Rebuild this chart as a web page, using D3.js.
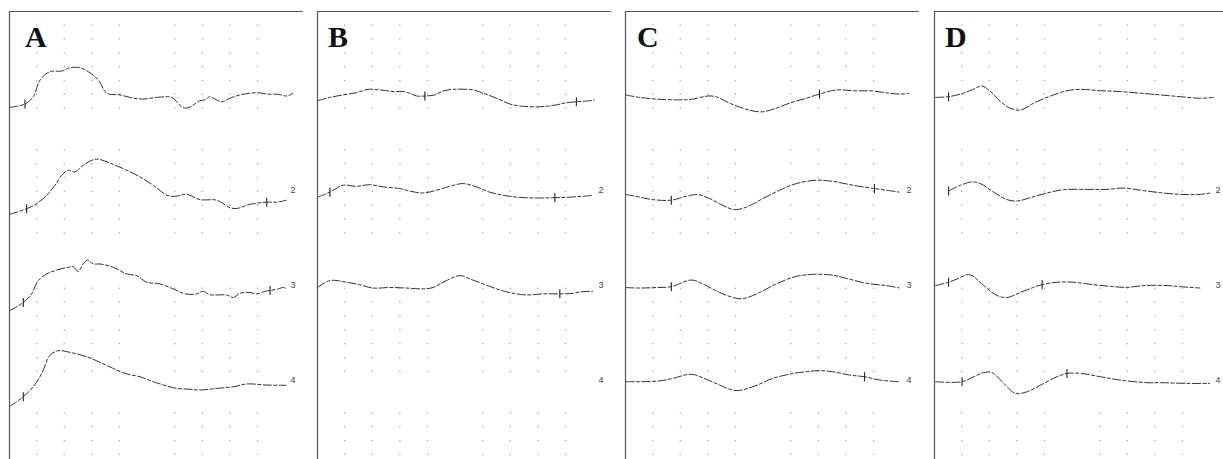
<!DOCTYPE html>
<html><head><meta charset="utf-8">
<script src="https://cdn.jsdelivr.net/npm/d3@7"></script>
<style>html,body{margin:0;padding:0;background:#fff;} svg{display:block;}</style>
</head><body>
<svg id="chart" width="1223" height="459"></svg>
<script>
// ---------- data (time in ms, amplitude in µV; 10 ms/div, 5 µV/div) ----------
const panelLetters = ["A", "B", "C", "D"];
const traceLabels = ["", "2", "3", "4"];
const gridCols = [10, 20, 30, 40, 60, 70, 80, 90];
const gridRows = [0,1,2,3,4,5,6, 9,10,11,12,13,14,15, 19,20,21,22,23,24,25, 28,29,30,31];

const traceA1 = [[0,-4.1],[5.6,-2.9],[8.6,-0.25],[11.1,5.8],[14.7,8.8],[18.9,9.0],[21.9,10.2],[25.5,10.2],[28.5,8.8],[32.2,5.8],[35.2,1.0],[40,0.4],[44.9,-0.8],[48.5,-1.1],[53.3,-0.5],[58.8,-0.5],[60.6,-2.1],[62.4,-3.9],[64.2,-4.4],[66.6,-3.2],[69,-1.7],[70.8,-1.4],[72.6,-0.25],[73.8,-0.8],[75.1,-1.4],[76.9,-2.1],[79.9,-0.8],[83.5,0.4],[87.1,1.0],[90.1,1.2],[93.2,0.7],[97.4,0.6],[100.4,0],[102.8,1.0]];
const traceA2 = [[0,-8.3],[6.2,-6.3],[9.9,-4.4],[13.5,-1.4],[16.5,2.2],[18.9,5.8],[21.3,7.6],[23.7,7.0],[26.7,9.4],[29.8,11.2],[32.2,11.6],[36.4,10.2],[41.2,8.2],[47.3,5.2],[52.1,2.2],[57,-1.4],[60,-1.8],[64.2,-1.1],[69,-3.0],[75.1,-3.2],[79.9,-5.9],[82.3,-6.2],[87.1,-4.7],[93.2,-3.9],[96.8,-3.9],[100.4,-3.2]];
const traceA3 = [[0,-8.7],[5,-5.7],[8,-2.6],[10.4,2.2],[13.5,4.6],[17.1,6.0],[21.3,7.0],[23.1,7.2],[24.9,5.5],[26.7,8.2],[28.2,9.6],[30.4,8.2],[32.8,8.2],[37.6,7.0],[42.5,4.6],[46.1,4.0],[49.7,1.6],[54.5,1.0],[59.3,-0.8],[63.6,-2.6],[67.8,-2.6],[70.2,-1.7],[72.6,-2.9],[78.7,-3.0],[81.1,-3.9],[83.5,-2.4],[87.1,-2.1],[89.6,-2.6],[92.6,-1.7],[94.4,-1.4],[97.4,-0.8],[99.2,-0.3],[100.4,-0.8]];
const traceA4 = [[0,-8.9],[5,-5.3],[8.6,-1.7],[11.7,3.1],[14.7,9.7],[17.7,11.3],[21.9,10.7],[28,9.1],[32.8,7.1],[37.6,4.9],[42.5,2.9],[47.3,1.9],[53.3,-0.3],[60.6,-2.3],[65.4,-2.6],[69,-2.9],[75.1,-2.3],[81.1,-1.7],[85.9,-0.7],[93.2,-1.1],[100.4,-1.2]];

const traceB1 = [[0,-1.7],[4.5,-0.5],[9.3,0.4],[14.1,1.2],[18.3,2.4],[22.6,2.2],[27.4,1.6],[31,1.6],[33.4,1.0],[35.9,0],[38.9,0],[42.5,0.4],[45.5,1.8],[49.1,2.4],[56.4,2.2],[60,1.0],[64.9,-0.8],[69.7,-2.9],[73.3,-3.6],[80.5,-3.9],[86.6,-3.2],[90.2,-2.4],[93.8,-2.1],[98.7,-1.7],[100.5,-1.4]];
const traceB2 = [[0,-2.1],[4.5,-0.3],[9.3,2.2],[14.1,1.8],[18.9,2.4],[23.8,1.6],[29.8,1.0],[33.4,0.1],[38.3,-0.6],[43.1,0.4],[47.9,1.8],[52.8,2.8],[57.6,1.6],[62.4,-0.3],[67.2,-1.4],[72.1,-2.1],[79.3,-2.4],[86,-2.3],[91.4,-2.1],[96.2,-1.8],[99.9,-1.4]];
const traceB3 = [[0,-0.3],[4.5,2.2],[10.5,1.6],[15.3,0.7],[20.1,-0.5],[26.2,-0.3],[32.2,-0.5],[38.3,-0.8],[41.9,-0.3],[46.7,2.2],[51.6,4.0],[55.2,2.8],[60,1.0],[66.1,-1.2],[70.9,-2.4],[75.7,-3.0],[81.7,-2.6],[87.8,-2.6],[92.6,-2.4],[96.2,-1.8],[99.9,-1.7]];
const traceB4 = [];

const traceC1 = [[0,0.4],[5.1,-0.5],[12.4,-1.2],[19.6,-1.4],[23.8,-1.2],[29.9,0],[32.9,-0.3],[37.7,-2.6],[42.5,-4.4],[46.2,-5.4],[49.8,-5.7],[54.6,-4.4],[59.4,-2.6],[65.5,-0.8],[70.3,0.7],[76.4,2.2],[82.4,1.9],[89.6,1.8],[95.6,1.0],[99.9,0.7],[102.9,1.0]];
const traceC2 = [[0,-1.1],[5.1,-2.1],[9.9,-3.0],[16.6,-3.2],[22,-1.8],[26.2,-1.2],[30.5,-2.6],[35.3,-5.1],[39.5,-6.6],[43.8,-5.7],[49.8,-2.6],[55.8,0.4],[61.9,2.8],[69.1,4.0],[75.1,3.6],[82.4,2.2],[90.2,1.0],[94.5,0.4],[99.3,-0.3]];
const traceC3 = [[0,-0.3],[5.1,-0.5],[11.2,-0.3],[16.6,0],[23.8,2.4],[28,1.0],[34.1,-2.1],[40.1,-4.2],[43.2,-4.2],[48.6,-2.1],[54.6,1.0],[60.7,3.4],[65.5,4.3],[74,4.3],[80,3.0],[87.3,1.2],[94.5,0.4],[99.3,-0.5]];
const traceC4 = [[0,0.1],[5.1,0.1],[12.4,0.4],[17.2,1.3],[23.8,2.8],[29.3,1.0],[34.1,-1.1],[40.1,-3.1],[46.2,-1.7],[53.4,1.3],[60.7,3.1],[65.5,3.7],[70.3,4.1],[75.1,3.7],[81.2,2.5],[86.6,1.9],[92.1,0.7],[99.3,0.1]];

const traceD1 = [[0.3,-0.5],[5.1,-0.25],[9.4,0.7],[13.6,2.2],[17.2,3.6],[20.3,1.6],[23.9,-2.0],[27.5,-4.4],[31.1,-5.1],[35.9,-2.6],[42,0],[48,1.9],[52.9,2.4],[60.1,1.9],[67.3,1.6],[74.6,1.0],[81.8,0.4],[89.1,-0.25],[96.3,-0.8],[101.2,-0.5]];
const traceD2 = [[5.1,0.1],[9.4,2.2],[13.6,3.4],[16.6,2.8],[21.4,-0.25],[26.3,-3.0],[29.9,-3.5],[34.7,-2.3],[40.8,-0.6],[46.8,0.6],[55.3,0.7],[62.5,0.7],[68.6,1.2],[74.6,0.4],[81.8,-0.5],[89.1,-1.1],[96.3,-1.1],[99.9,-0.6]];
const traceD3 = [[0.3,0.4],[5.1,1.6],[8.2,2.8],[11.8,4.3],[13.6,4.0],[17.8,0.4],[22.7,-3.2],[26.3,-3.9],[31.1,-2.1],[35.9,-0.25],[39,0.7],[44.4,1.6],[50.4,1.6],[57.7,0.7],[63.7,0.1],[69.8,-0.25],[75.8,0.4],[84.2,0.4],[89.1,0],[96.3,-0.5]];
const traceD4 = [[0.3,0.1],[10,0.1],[14.2,1.9],[17.8,3.4],[20.9,3.4],[25.1,-0.5],[29.3,-4.1],[33.6,-3.5],[39.6,-0.5],[44.4,1.9],[48,3.1],[52.9,3.1],[60.1,1.9],[67.3,0.7],[77,-0.25],[81.8,-0.25],[91.5,-0.5],[99.9,-0.5]];

// latency markers (ms) per trace
const marksA = [[5.6], [6.2, 93.2], [5, 94.4], [5]];
const marksB = [[38.9, 93.8], [4.5, 86], [87.8], []];
const marksC = [[70.3], [16.6, 90.2], [16.6], [86.6]];
const marksD = [[5.1], [5.1], [5.1, 39], [10, 48]];

const panels = [
  {letter: panelLetters[0], traces: [traceA1, traceA2, traceA3, traceA4], marks: marksA},
  {letter: panelLetters[1], traces: [traceB1, traceB2, traceB3, traceB4], marks: marksB},
  {letter: panelLetters[2], traces: [traceC1, traceC2, traceC3, traceC4], marks: marksC},
  {letter: panelLetters[3], traces: [traceD1, traceD2, traceD3, traceD4], marks: marksD}
];

// ---------- layout ----------
const svg = d3.select("#chart");
svg.append("rect").attr("width", 1223).attr("height", 459).attr("fill", "#fff");

const panelX = d3.scaleLinear().domain([0, 3]).range([9.5, 934.1]);
const x = d3.scaleLinear().domain([0, 100]).range([0, 276]);
const base = d3.scaleLinear().domain([0, 3]).range([96, 382]);
const amp = d3.scaleLinear().domain([0, 1]).range([0, -2.77]);
const rowY = d3.scaleLinear().domain([0, 31]).range([25, 454.35]);
const letterDx = [16, 11, 12, 11];

function interp(tr, t) {
  for (let i = 1; i < tr.length; i++) {
    if (t <= tr[i][0]) {
      const a = tr[i - 1], b = tr[i];
      const f = (t - a[0]) / (b[0] - a[0]);
      return a[1] + f * (b[1] - a[1]);
    }
  }
  return tr[tr.length - 1][1];
}

panels.forEach((p, i) => {
  const g = svg.append("g").attr("transform", `translate(${Math.floor(panelX(i))},0)`);

  // grid dots
  const dots = [];
  gridCols.forEach(c => gridRows.forEach(r => dots.push([c, r])));
  g.selectAll("rect.dot").data(dots).enter().append("rect")
    .attr("class", "dot")
    .attr("x", d => x(d[0]) - 0.5).attr("y", d => rowY(d[1]) - 0.5)
    .attr("width", 1.2).attr("height", 1.2)
    .attr("fill", "#9a9a9a");

  // border (left and top)
  g.append("path").attr("d", "M0.5,459 V11.5 H294")
    .attr("fill", "none").attr("stroke", "#555").attr("stroke-width", 1.2);

  // letter
  g.append("text").attr("x", letterDx[i]).attr("y", 47)
    .attr("font-family", "'Liberation Serif','Times New Roman',serif")
    .attr("font-weight", "bold").attr("font-size", 30).attr("fill", "#111")
    .text(p.letter);

  // traces
  p.traces.forEach((tr, j) => {
    if (tr.length) {
      const line = d3.line()
        .x(d => x(d[0]) + 0.5)
        .y(d => base(j) + amp(d[1]))
        .curve(d3.curveCatmullRom.alpha(0.5));
      g.append("path").datum(tr).attr("d", line)
        .attr("fill", "none").attr("stroke", "#333").attr("stroke-width", 1)
        .attr("stroke-dasharray", "9,1.5,4,1.5");
      p.marks[j].forEach(t => {
        const y = base(j) + amp(interp(tr, t));
        g.append("line").attr("x1", x(t) + 0.5).attr("x2", x(t) + 0.5)
          .attr("y1", y - 4.5).attr("y2", y + 4.5)
          .attr("stroke", "#222").attr("stroke-width", 1.1);
      });
    }
    if (traceLabels[j]) {
      g.append("text").attr("x", x(102)).attr("y", base(j) - 1)
        .attr("dominant-baseline", "middle")
        .attr("font-family", "'Liberation Sans',Arial,sans-serif")
        .attr("font-size", 9).attr("fill", "#444")
        .text(traceLabels[j]);
    }
  });
});
</script>
</body></html>
